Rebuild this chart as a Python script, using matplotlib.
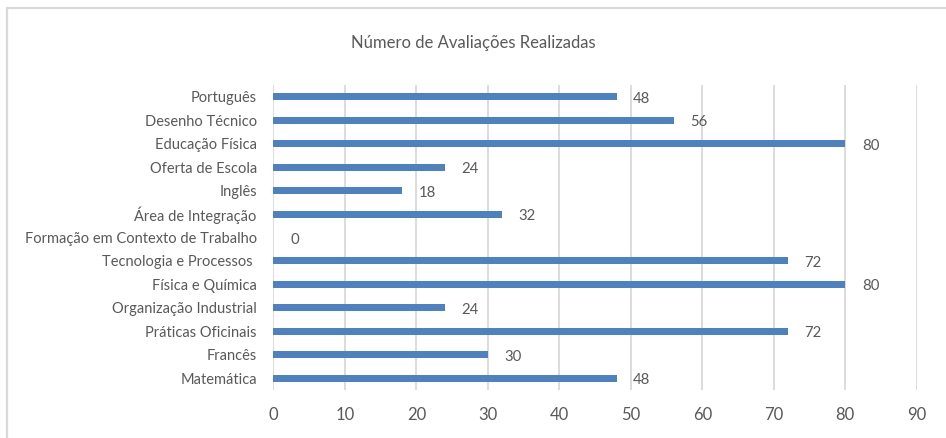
import matplotlib

matplotlib.use("Agg")
import matplotlib.pyplot as plt
from matplotlib.patches import Rectangle


# data, top to bottom as shown
disciplinas = [
    "Português",
    "Desenho Técnico",
    "Educação Física",
    "Oferta de Escola",
    "Inglês",
    "Área de Integração",
    "Formação em Contexto de Trabalho",
    "Tecnologia e Processos ",
    "Física e Química",
    "Organização Industrial",
    "Práticas Oficinais",
    "Francês",
    "Matemática",
]
avaliacoes = [48, 56, 80, 24, 18, 32, 0, 72, 80, 24, 72, 30, 48]
x_ticks = [0, 10, 20, 30, 40, 50, 60, 70, 80, 90]

BLUE = "#4F81BD"
TEXT = "#595959"
GRID = "#D9D9D9"

plt.rcParams["font.family"] = ["Lato", "DejaVu Sans"]

fig = plt.figure(figsize=(9.46, 4.38), dpi=100)
ax = fig.add_axes([0.2891, 0.1096, 0.6799, 0.6964])

pos = list(range(len(disciplinas)))
ax.barh(pos, avaliacoes, height=0.3, color=BLUE, zorder=3)

for y, v in zip(pos, avaliacoes):
    ax.annotate(str(v), (v, y), xytext=(12, -1.5), textcoords="offset points",
                va="center", ha="left", fontsize=10.7, color=TEXT)

ax.set_xlim(0, 90)
ax.set_ylim(len(disciplinas) - 0.5, -0.5)
ax.set_xticks(x_ticks)
ax.set_yticks(pos)
ax.set_yticklabels(disciplinas)
ax.tick_params(axis="x", length=0, labelsize=12, colors=TEXT, pad=12)
ax.tick_params(axis="y", length=0, labelsize=10.5, colors=TEXT, pad=12)
ax.grid(axis="x", color=GRID, linewidth=1.3, zorder=0)
for s in ax.spines.values():
    s.set_visible(False)

fig.text(0.5, 0.902, "Número de Avaliações Realizadas", ha="center", va="center",
         fontsize=12, color=TEXT)

# chart border (only top and left edges fall inside the picture)
fig.patches.append(Rectangle((7 / 946, -0.1), 1.2, 1 - 8 / 438 + 0.1,
                             transform=fig.transFigure, fill=False,
                             edgecolor=GRID, linewidth=1.6))

fig.savefig("out.png", dpi=100)
